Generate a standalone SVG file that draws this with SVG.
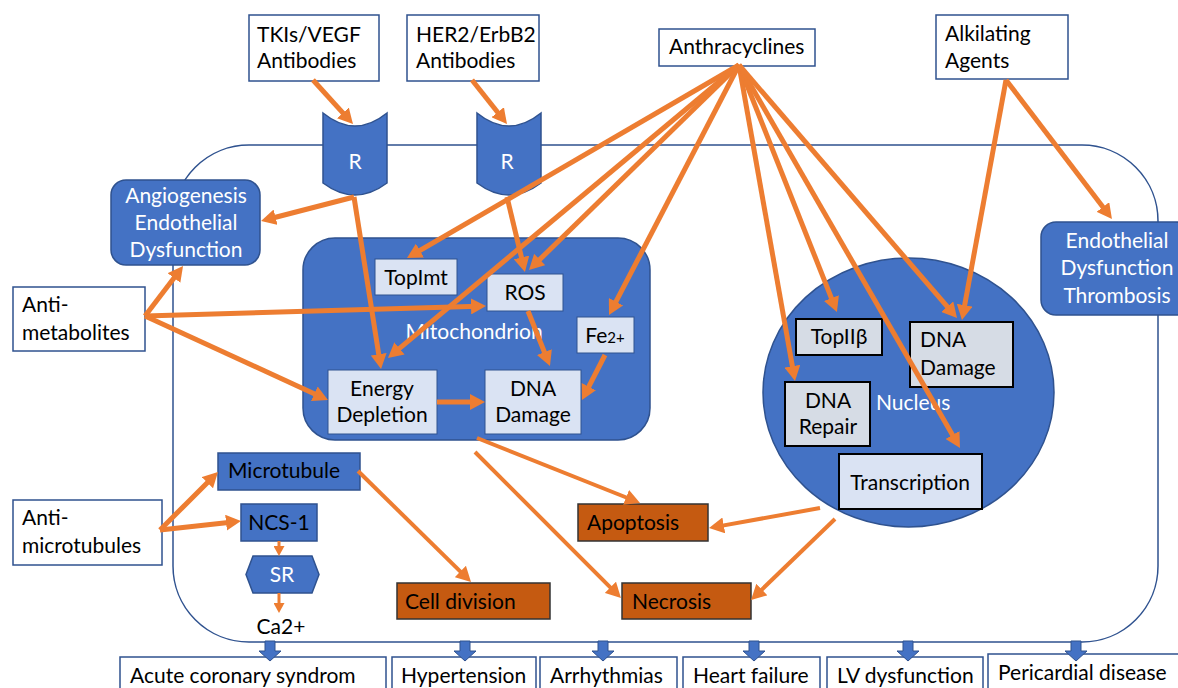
<svg xmlns="http://www.w3.org/2000/svg" width="1178" height="688" viewBox="0 0 1178 688">
<style>
text{font-family:Lato,"Open Sans","Liberation Sans",sans-serif;font-size:21px;fill:#000}
.w{fill:#fff}
.c{text-anchor:middle}
.box{fill:#fff;stroke:#2F528F;stroke-width:1.5}
.blue{fill:#4472C4;stroke:#2F528F;stroke-width:1.5}
.lt{fill:#DAE3F3;stroke:#2F528F;stroke-width:1}
.gr{fill:#D6DCE5;stroke:#000;stroke-width:2}
.tr{fill:#DAE3F3;stroke:#000;stroke-width:2}
.br{fill:#C55A11;stroke:#333;stroke-width:1.5}
.a{stroke:#ED7D31;stroke-width:5;fill:none;marker-end:url(#h)}
.t{stroke:#ED7D31;stroke-width:4;fill:none;marker-end:url(#h)}
.s{stroke:#ED7D31;stroke-width:3;fill:none;marker-end:url(#hs)}
.ba{fill:#4472C4;stroke:#2F528F;stroke-width:1}
</style>
<defs>
<marker id="h" markerUnits="userSpaceOnUse" markerWidth="16" markerHeight="16" refX="7" refY="8" orient="auto" viewBox="0 0 16 16">
<path d="M0,0 L15,8 L0,16 z" fill="#ED7D31"/>
</marker>
<marker id="hs" markerUnits="userSpaceOnUse" markerWidth="11" markerHeight="11" refX="5" refY="5.5" orient="auto" viewBox="0 0 11 11">
<path d="M0,0 L10,5.5 L0,11 z" fill="#ED7D31"/>
</marker>
</defs>
<rect width="1178" height="688" fill="#fff"/>
<g id="cell"><rect x="173" y="145" width="985" height="497" rx="76" ry="76" fill="none" stroke="#2F528F" stroke-width="1.5"/></g>
<g id="mitochondrion"><rect x="303" y="238" width="347" height="202" rx="32" class="blue"/><text x="474" y="339" class="w c">Mitochondrion</text></g>
<g id="nucleus"><ellipse cx="908.5" cy="392.5" rx="145.5" ry="134.5" class="blue"/><text x="876" y="410" class="w">Nucleus</text></g>
<g id="tki"><rect x="249" y="15" width="130" height="66" class="box"/><text x="257" y="42">TKIs/VEGF</text><text x="257" y="68">Antibodies</text></g>
<g id="her2"><rect x="407" y="15" width="132" height="66" class="box"/><text x="416" y="42">HER2/ErbB2</text><text x="416" y="68">Antibodies</text></g>
<g id="anthracyclines"><rect x="659" y="29" width="156" height="37" class="box"/><text x="669" y="54">Anthracyclines</text></g>
<g id="alkilating"><rect x="936" y="15" width="132" height="64" class="box"/><text x="945" y="41">Alkilating</text><text x="945" y="68">Agents</text></g>
<g id="r1"><path d="M323,113 Q355,139 387,113 L387,183 Q355,207 323,183 Z" class="blue"/><text x="355" y="169" class="w c">R</text></g>
<g id="r2"><path d="M477,113 Q509,139 541,113 L541,183 Q509,207 477,183 Z" class="blue"/><text x="507" y="169" class="w c">R</text></g>
<g id="angio"><rect x="111" y="180" width="149" height="85" rx="15" class="blue"/><text x="186" y="203" class="w c">Angiogenesis</text><text x="186" y="230" class="w c">Endothelial</text><text x="186" y="257" class="w c">Dysfunction</text></g>
<g id="endo"><rect x="1041" y="222" width="150" height="93" rx="15" class="blue"/><text x="1117" y="248" class="w c">Endothelial</text><text x="1117" y="275" class="w c">Dysfunction</text><text x="1117" y="303" class="w c">Thrombosis</text></g>
<g id="antimet"><rect x="13" y="287" width="132" height="64" class="box"/><text x="22" y="312">Anti-</text><text x="22" y="340">metabolites</text></g>
<g id="antimic"><rect x="13" y="500" width="149" height="65" class="box"/><text x="22" y="525">Anti-</text><text x="22" y="553">microtubules</text></g>
<g id="topimt"><rect x="375" y="259" width="82" height="36" class="lt"/><text x="416" y="285" class="c">TopImt</text></g>
<g id="ros"><rect x="487" y="274" width="76" height="37" class="lt"/><text x="525" y="300" class="c">ROS</text></g>
<g id="fe"><rect x="577" y="317" width="57" height="36" class="lt"/><text x="605" y="343" class="c">Fe<tspan font-size="15">2+</tspan></text></g>
<g id="energy"><rect x="328" y="370" width="109" height="64" class="lt"/><text x="382" y="396" class="c">Energy</text><text x="382" y="422" class="c">Depletion</text></g>
<g id="dnamito"><rect x="485" y="370" width="96" height="64" class="lt"/><text x="533" y="396" class="c">DNA</text><text x="533" y="422" class="c">Damage</text></g>
<g id="top2b"><rect x="796" y="319" width="86" height="36" class="gr"/><text x="839" y="344" class="c">TopIIβ</text></g>
<g id="dnarepair"><rect x="785" y="382" width="85" height="64" class="gr"/><text x="828" y="408" class="c">DNA</text><text x="828" y="434" class="c">Repair</text></g>
<g id="dnanuc"><rect x="910" y="322" width="103" height="65" class="gr"/><text x="920" y="347">DNA</text><text x="920" y="375">Damage</text></g>
<g id="transcription"><rect x="839" y="454" width="143" height="55" class="tr"/><text x="910" y="490" class="c">Transcription</text></g>
<g id="microtubule"><rect x="218" y="453" width="142" height="37" class="blue"/><text x="228" y="478">Microtubule</text></g>
<g id="ncs1"><rect x="241" y="504" width="76" height="37" class="blue"/><text x="279" y="530" class="c">NCS-1</text></g>
<g id="sr"><polygon points="253,556 312,556 319,574.5 312,593 253,593 246,574.5" class="blue"/><text x="282" y="582" class="w c">SR</text></g>
<g id="ca"><text x="281" y="634" class="c" font-size="18">Ca2+</text></g>
<g id="apoptosis"><rect x="578" y="504" width="130" height="37" class="br"/><text x="587" y="530">Apoptosis</text></g>
<g id="celldiv"><rect x="397" y="583" width="153" height="36" class="br"/><text x="405" y="609">Cell division</text></g>
<g id="necrosis"><rect x="622" y="583" width="129" height="36" class="br"/><text x="632" y="609">Necrosis</text></g>
<g id="acs"><rect x="120" y="657" width="266" height="50" class="box"/><text x="130" y="683">Acute coronary syndrom</text></g>
<g id="htn"><rect x="392" y="657" width="144" height="50" class="box"/><text x="401" y="683">Hypertension</text></g>
<g id="arr"><rect x="540" y="657" width="137" height="50" class="box"/><text x="550" y="683">Arrhythmias</text></g>
<g id="hf"><rect x="683" y="657" width="137" height="50" class="box"/><text x="693" y="683">Heart failure</text></g>
<g id="lv"><rect x="827" y="657" width="156" height="50" class="box"/><text x="837" y="683">LV dysfunction</text></g>
<g id="peri"><rect x="988" y="654" width="200" height="50" class="box"/><text x="998" y="680">Pericardial disease</text></g>
<g id="connectors">
<line x1="313" y1="80" x2="347.6" y2="118.1" class="a"/>
<line x1="472" y1="80" x2="502" y2="117.7" class="a"/>
<line x1="354" y1="197" x2="268.8" y2="219" class="a"/>
<line x1="354" y1="197" x2="379.8" y2="361.1" class="a"/>
<line x1="507" y1="197" x2="523.1" y2="264.2" class="a"/>
<line x1="739" y1="65" x2="413.9" y2="254" class="a"/>
<line x1="739" y1="65" x2="394.1" y2="352.9" class="a"/>
<line x1="739" y1="65" x2="534.7" y2="264.4" class="a"/>
<line x1="739" y1="65" x2="612.7" y2="307.9" class="a"/>
<line x1="739" y1="65" x2="793.6" y2="373.1" class="a"/>
<line x1="739" y1="65" x2="834" y2="304.6" class="a"/>
<line x1="739" y1="65" x2="956" y2="441.1" class="a"/>
<line x1="739" y1="65" x2="951.8" y2="311.9" class="a"/>
<line x1="1006" y1="80" x2="963.4" y2="312.1" class="a"/>
<line x1="1006" y1="80" x2="1107.1" y2="212.6" class="a"/>
<line x1="145" y1="316" x2="178.2" y2="272.4" class="a"/>
<line x1="145" y1="316" x2="478" y2="306.2" class="a"/>
<line x1="145" y1="316" x2="320.7" y2="396.7" class="a"/>
<line x1="437" y1="402" x2="477" y2="402" class="a"/>
<line x1="528" y1="311" x2="547" y2="358.6" class="a"/>
<line x1="605" y1="355" x2="585.6" y2="392.9" class="a"/>
<line x1="477" y1="438" x2="632.6" y2="500" class="t"/>
<line x1="475" y1="452" x2="615.3" y2="592.3" class="t"/>
<line x1="358" y1="471" x2="465.3" y2="576.4" class="t"/>
<line x1="820" y1="508" x2="716.9" y2="526.6" class="t"/>
<line x1="835" y1="519" x2="756.8" y2="594.4" class="t"/>
<line x1="160" y1="530" x2="212.3" y2="477.7" class="a"/>
<line x1="160" y1="530" x2="233" y2="521.9" class="a"/>
<line x1="279" y1="541" x2="279" y2="551" class="s"/>
<line x1="279" y1="593" x2="279" y2="608" class="s"/>
<polygon points="265,641 275,641 275,651 281,651 270,661 259,651 265,651" class="ba"/>
<polygon points="460,641 470,641 470,651 476,651 465,661 454,651 460,651" class="ba"/>
<polygon points="598,641 608,641 608,651 614,651 603,661 592,651 598,651" class="ba"/>
<polygon points="749,641 759,641 759,651 765,651 754,661 743,651 749,651" class="ba"/>
<polygon points="903,641 913,641 913,651 919,651 908,661 897,651 903,651" class="ba"/>
<polygon points="1071,641 1081,641 1081,651 1087,651 1076,661 1065,651 1071,651" class="ba"/>
</g>
</svg>
